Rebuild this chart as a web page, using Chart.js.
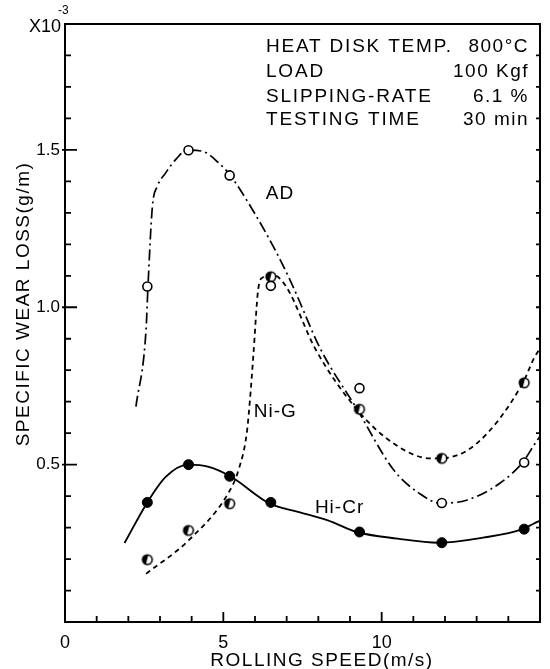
<!DOCTYPE html>
<html>
<head>
<meta charset="utf-8">
<script src="https://cdn.jsdelivr.net/npm/chart.js@4.4.0/dist/chart.umd.min.js"></script>
<style>
  html, body { margin: 0; padding: 0; background: #fff; }
  #wrap { width: 550px; height: 669px; }
</style>
</head>
<body>
<div id="wrap"><canvas id="wearChart" width="550" height="669"></canvas></div>
<script>
// measured points: rolling speed (m/s) vs specific wear loss (x10^-3 g/m)
const speed = [2.6, 3.9, 5.2, 6.5, 9.3, 11.9, 14.5];
const adLoss = [1.066, 1.499, 1.419, 1.068, 0.743, 0.378, 0.507];
const niLoss = [0.198, 0.291, 0.376, 1.097, 0.676, 0.520, 0.760];
const crLoss = [0.380, 0.500, 0.463, 0.380, 0.286, 0.252, 0.295];

// fitted curves as drawn in the figure (traced by eye)
const adCurveX = [2.24, 2.56, 2.62, 2.76, 2.92, 3.18, 3.5, 3.86, 4.33, 4.85, 5.22, 5.95, 6.63, 7.15, 8.08, 9.2, 10.38, 11.2, 11.84, 12.68, 13.72, 14.45, 14.81, 15.0];
const adCurveY = [0.684, 0.929, 1.066, 1.32, 1.385, 1.427, 1.47, 1.499, 1.496, 1.459, 1.419, 1.305, 1.183, 1.077, 0.865, 0.68, 0.483, 0.408, 0.378, 0.387, 0.44, 0.507, 0.562, 0.59];
const niCurveX = [2.56, 3.91, 5.16, 5.48, 5.74, 5.84, 5.95, 6.1, 6.25, 6.57, 6.98, 7.92, 9.23, 10.38, 11.53, 11.84, 13.0, 14.45, 14.81, 15.0];
const niCurveY = [0.153, 0.26, 0.41, 0.483, 0.60, 0.705, 0.85, 1.056, 1.095, 1.103, 1.066, 0.865, 0.674, 0.567, 0.52, 0.52, 0.567, 0.758, 0.838, 0.87];
const crCurveX = [1.88, 2.6, 3.18, 3.89, 4.54, 5.22, 6.47, 7.36, 8.3, 9.21, 10.5, 11.79, 13.2, 14.45, 14.81, 15.0];
const crCurveY = [0.251, 0.38, 0.461, 0.50, 0.493, 0.463, 0.376, 0.35, 0.323, 0.286, 0.265, 0.252, 0.268, 0.295, 0.313, 0.322];

const xLabelled = [0, 5, 10];
const yLabelled = ['0.5', '1.0', '1.5'];

const FONT = '"Liberation Sans", Arial, sans-serif';

function pts(xs, ys) {
    return xs.map((x, i) => ({ x: x, y: ys[i] }));
}

// half filled circle for Ni-G
function halfDot(r) {
    const c = document.createElement('canvas');
    const s = Math.ceil(r * 2 + 4);
    c.width = s; c.height = s;
    const g = c.getContext('2d');
    const m = s / 2;
    g.beginPath(); g.arc(m, m, r, 0, Math.PI * 2); g.fillStyle = '#fff'; g.fill();
    g.beginPath(); g.moveTo(m + 1, m - r); g.arc(m, m, r, -Math.PI / 2 - 0.3, Math.PI / 2 + 0.3, true); g.closePath();
    g.fillStyle = '#000'; g.fill();
    g.beginPath(); g.arc(m, m, r, 0, Math.PI * 2); g.lineWidth = 1.6; g.strokeStyle = '#000'; g.stroke();
    return c;
}

function txt(ctx, s, x, y, size, align, spacing) {
    ctx.font = size + 'px ' + FONT;
    ctx.textAlign = align || 'left';
    ctx.textBaseline = 'alphabetic';
    ctx.letterSpacing = (spacing || 0) + 'px';
    ctx.fillText(s, x, y);
}

const framePlugin = {
    id: 'framePlugin',
    afterDraw(chart) {
        const ctx = chart.ctx;
        const a = chart.chartArea;
        const xs = chart.scales.x, ys = chart.scales.y;
        ctx.save();
        ctx.strokeStyle = '#000';
        ctx.fillStyle = '#000';
        ctx.lineWidth = 2;
        ctx.strokeRect(a.left, a.top, a.right - a.left, a.bottom - a.top);

        ctx.lineWidth = 1.8;
        ctx.beginPath();
        for (let v = 1; v < 15; v++) {
            const px = xs.getPixelForValue(v);
            const len = v % 5 === 0 ? 10 : 6;
            ctx.moveTo(px, a.bottom); ctx.lineTo(px, a.bottom - len);
        }
        for (let k = 1; k < 19; k++) {
            const py = ys.getPixelForValue(k / 10);
            if (k % 5 === 0) {
                ctx.moveTo(a.left - 3, py); ctx.lineTo(a.left + 12, py);
            } else {
                ctx.moveTo(a.left, py); ctx.lineTo(a.left + 6, py);
            }
            ctx.moveTo(a.right, py); ctx.lineTo(a.right - 4, py);
        }
        ctx.stroke();

        // exponent
        txt(ctx, 'X10', 61, 32, 18, 'right', 0);
        txt(ctx, '-3', 58, 14, 12, 'left', 0);

        // axis titles
        txt(ctx, 'ROLLING SPEED(m/s)', 322, 666, 19, 'center', 1.5);
        ctx.save();
        ctx.translate(29, 304);
        ctx.rotate(-Math.PI / 2);
        txt(ctx, 'SPECIFIC WEAR LOSS(g/m)', 0, 0, 19, 'center', 1.5);
        ctx.restore();

        // test conditions
        const L = a.right - 274, R = a.right - 11;
        const rows = [['HEAT DISK TEMP.', '800\u00b0C'], ['LOAD', '100 Kgf'], ['SLIPPING-RATE', '6.1 %'], ['TESTING TIME', '30 min']];
        const base = [52, 77, 101.5, 125];
        rows.forEach((r, i) => {
            txt(ctx, r[0], L, base[i], 19, 'left', 1.8);
            txt(ctx, r[1], R, base[i], 19, 'right', 1.5);
        });

        // series names
        txt(ctx, 'AD', xs.getPixelForValue(6.79), ys.getPixelForValue(1.345), 19, 'center', 1);
        txt(ctx, 'Ni-G', xs.getPixelForValue(6.64), ys.getPixelForValue(0.65), 19, 'center', 1);
        txt(ctx, 'Hi-Cr', xs.getPixelForValue(8.67), ys.getPixelForValue(0.345), 19, 'center', 1);
        ctx.restore();
    }
};

const ctx = document.getElementById('wearChart').getContext('2d');
new Chart(ctx, {
    type: 'line',
    data: {
        datasets: [
            { label: 'AD', data: pts(speed, adLoss), showLine: false, order: 0,
              pointStyle: 'circle', pointRadius: 4.5, pointBackgroundColor: '#fff', pointBorderColor: '#000', pointBorderWidth: 1.6 },
            { label: 'Ni-G', data: pts(speed, niLoss), showLine: false, order: 0,
              pointStyle: halfDot(4.8), pointRadius: 5 },
            { label: 'Hi-Cr', data: pts(speed, crLoss), showLine: false, order: 0,
              pointStyle: 'circle', pointRadius: 5, pointBackgroundColor: '#000', pointBorderColor: '#000', pointBorderWidth: 1 },
            { label: 'AD curve', data: pts(adCurveX, adCurveY), order: 1, pointRadius: 0,
              borderColor: '#000', borderWidth: 1.7, borderDash: [11, 4, 2, 4], cubicInterpolationMode: 'monotone' },
            { label: 'Ni-G curve', data: pts(niCurveX, niCurveY), order: 1, pointRadius: 0,
              borderColor: '#000', borderWidth: 1.8, borderDash: [5, 4], cubicInterpolationMode: 'monotone' },
            { label: 'Hi-Cr curve', data: pts(crCurveX, crCurveY), order: 1, pointRadius: 0,
              borderColor: '#000', borderWidth: 1.9, cubicInterpolationMode: 'monotone' }
        ]
    },
    options: {
        responsive: false,
        animation: false,
        layout: { padding: { left: 0, right: 6, top: 24, bottom: 0 } },
        plugins: { legend: { display: false }, tooltip: { enabled: false } },
        scales: {
            x: {
                type: 'linear', min: 0, max: 15,
                grid: { display: false, drawTicks: false }, border: { display: false },
                afterFit(scale) { scale.height = 47; },
                ticks: {
                    stepSize: 1, autoSkip: false, padding: 10, color: '#000',
                    font: { family: FONT, size: 18 },
                    callback: v => xLabelled.includes(v) ? String(v) : ''
                }
            },
            y: {
                type: 'linear', min: 0, max: 1.9,
                grid: { display: false, drawTicks: false }, border: { display: false },
                afterFit(scale) { scale.width = 65; },
                ticks: {
                    stepSize: 0.1, autoSkip: false, padding: 5, color: '#000',
                    font: { family: FONT, size: 17 },
                    callback: v => {
                        const s = (Math.round(v * 10) / 10).toFixed(1);
                        return yLabelled.includes(s) ? s : '';
                    }
                }
            }
        }
    },
    plugins: [framePlugin]
});
</script>
</body>
</html>
